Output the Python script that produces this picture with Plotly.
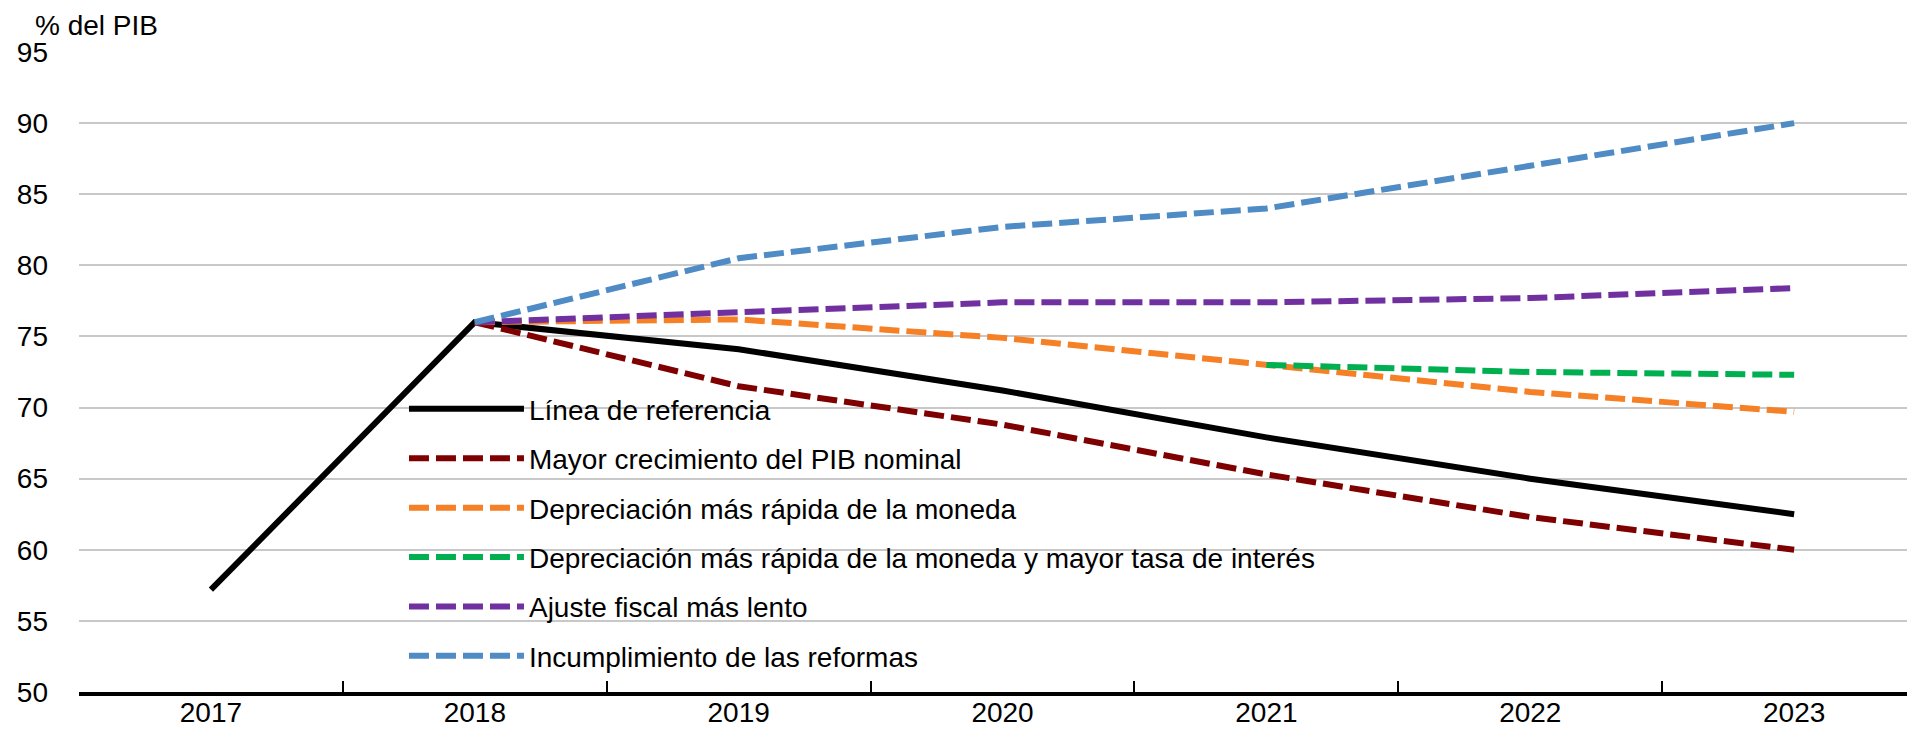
import plotly.graph_objects as go

years = ["2017", "2018", "2019", "2020", "2021", "2022", "2023"]
baseline = [57.2, 76.0, 74.1, 71.2, 67.9, 65.0, 62.5]
higher_gdp = [None, 76.0, 71.5, 68.8, 65.3, 62.3, 60.0]
faster_dep = [None, 76.0, 76.2, 74.9, 73.0, 71.1, 69.7]
faster_dep_rate = [None, None, None, None, 73.0, 72.5, 72.3]
slower_fiscal = [None, 76.0, 76.7, 77.4, 77.4, 77.7, 78.4]
no_reforms = [None, 76.0, 80.5, 82.7, 84.0, 87.0, 90.0]

names = [
    "Línea de referencia",
    "Mayor crecimiento del PIB nominal",
    "Depreciación más rápida de la moneda",
    "Depreciación más rápida de la moneda y mayor tasa de interés",
    "Ajuste fiscal más lento",
    "Incumplimiento de las reformas",
]
series = [baseline, higher_gdp, faster_dep, faster_dep_rate, slower_fiscal, no_reforms]
colors = ["#000000", "#7f0000", "#f58025", "#00b050", "#7030a0", "#4f8bc4"]
dashes = ["solid", "20px,7px", "20px,7px", "20px,7px", "20px,7px", "20px,7px"]

FONT = "Liberation Sans, Arial, sans-serif"
FS = 28

fig = go.Figure()
for i, (n, s, c, d) in enumerate(zip(names, series, colors, dashes)):
    fig.add_trace(go.Scatter(
        x=years, y=s, name=n, mode="lines",
        line=dict(color=c, width=6, dash=d),
        legendgroup=f"g{i}",
        connectgaps=False,
    ))

# page body has an 8px default margin, so the figure is sized to fit the window
fig.update_layout(
    width=1907, height=730,
    margin=dict(l=71, r=0, t=44, b=46),
    paper_bgcolor="white", plot_bgcolor="white",
    font=dict(family=FONT, size=FS, color="black"),
    showlegend=True,
    legend=dict(
        x=0.177, y=0.481, xanchor="left", yanchor="top",
        bgcolor="rgba(0,0,0,0)", borderwidth=0,
        font=dict(family=FONT, size=FS, color="black"),
        itemwidth=115, tracegroupgap=10,
    ),
    xaxis=dict(
        type="category", range=[-0.5, 6.458], automargin=False,
        showgrid=False, showline=True, linecolor="black", linewidth=4,
        ticks="inside", tickson="boundaries", ticklen=11, tickwidth=2, tickcolor="black",
        tickfont=dict(family=FONT, size=FS), ticklabelstandoff=-8, fixedrange=True,
    ),
    yaxis=dict(
        range=[50, 95], tickvals=[50, 55, 60, 65, 70, 75, 80, 85, 90, 95],
        automargin=False,
        showgrid=True, gridcolor="#c8c8c8", gridwidth=2,
        zeroline=False, showline=False, ticks="", ticklabelstandoff=30,
        tickfont=dict(family=FONT, size=FS),
    ),
    annotations=[dict(
        text="% del PIB", xref="paper", yref="paper",
        x=-0.025, y=1.0, xanchor="left", yanchor="bottom", yshift=9,
        showarrow=False, font=dict(family=FONT, size=FS),
    )],
)

fig.write_html("out.html")
